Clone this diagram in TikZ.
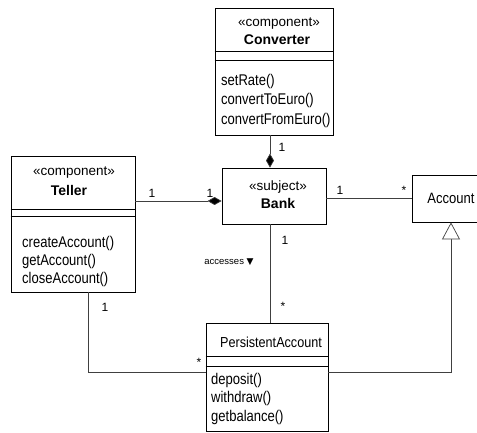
\documentclass[tikz,border=0pt]{standalone}
\usepackage{fontspec}
\setmainfont{Liberation Sans}
\newfontfamily\namefont[FakeStretch=0.87]{Liberation Sans}
\newfontfamily\opsfont[FakeStretch=0.84]{Liberation Sans}
\newfontfamily\symfont{DejaVu Sans}
\usetikzlibrary{arrows.meta}

\begin{document}
\begin{tikzpicture}[x=1pt,y=-1pt,
  classbox/.style={draw=black, line width=0.8pt, fill=white, inner sep=0pt},
  sepline/.style={draw=black, line width=0.7pt},
  stereo/.style={inner sep=0pt, font=\fontsize{13.5}{15}\selectfont},
  cname/.style={inner sep=0pt, font=\fontsize{14}{16}\selectfont\bfseries},
  opname/.style={inner sep=0pt, anchor=west, font=\opsfont\fontsize{15.5}{17}\selectfont},
  mult/.style={inner sep=0pt, font=\fontsize{12}{14}\selectfont},
  assoc/.style={draw=black!75, line width=0.7pt},
  compos/.style={assoc, -{Diamond[length=14pt,width=8pt,fill=black]}},
  general/.style={assoc, -{Triangle[open,length=17pt,width=18pt,fill=white]}}
]
\useasboundingbox (0,0) rectangle (477,433);

% ---------- Converter ----------
\node[classbox, minimum width=118pt, minimum height=127pt] (conv) at (274,71.5) {};
\draw[sepline] (conv.west |- 0,51) -- (conv.east |- 0,51);
\draw[sepline] (conv.west |- 0,60) -- (conv.east |- 0,60);
\node[stereo] (convst) at (279,24) {«component»};
\node[cname] (convnm) at (277,40) {Converter};
\node[opname] (convop1) at (221,81) {setRate()};
\node[opname] (convop2) at (221,100) {convertToEuro()};
\node[opname] (convop3) at (221,120) {convertFromEuro()};

% ---------- Teller ----------
\node[classbox, minimum width=124pt, minimum height=136pt] (teller) at (73,224) {};
\draw[sepline] (teller.west |- 0,209) -- (teller.east |- 0,209);
\draw[sepline] (teller.west |- 0,216) -- (teller.east |- 0,216);
\node[stereo] (tellst) at (74,173) {«component»};
\node[cname] (tellnm) at (69,190) {Teller};
\node[opname] (tellop1) at (22,243) {createAccount()};
\node[opname] (tellop2) at (22,261) {getAccount()};
\node[opname] (tellop3) at (22,279) {closeAccount()};

% ---------- Bank ----------
\node[classbox, minimum width=104pt, minimum height=56pt] (bank) at (274,196) {};
\node[stereo] (bankst) at (278,187) {«subject»};
\node[cname] (banknm) at (278,203) {Bank};

% ---------- Account ----------
\node[classbox, minimum width=78pt, minimum height=47pt] (acct) at (451,198.5) {};
\node[inner sep=0pt, font=\namefont\fontsize{15}{17}\selectfont] (acctnm) at (451,198) {Account};

% ---------- PersistentAccount ----------
\node[classbox, minimum width=122pt, minimum height=108pt] (pa) at (267,377) {};
\draw[sepline] (pa.west |- 0,356) -- (pa.east |- 0,356);
\draw[sepline] (pa.west |- 0,366) -- (pa.east |- 0,366);
\node[inner sep=0pt, font=\namefont\fontsize{14.5}{16}\selectfont] (panm) at (271,342) {PersistentAccount};
\node[opname] (paop1) at (211,380) {deposit()};
\node[opname] (paop2) at (211,398) {withdraw()};
\node[opname] (paop3) at (211,417) {getbalance()};

% ---------- connectors ----------
\coordinate (tcorner) at (88,372);
\coordinate (gcorner) at (451,372);

% Converter to Bank (composition)
\draw[compos] ([xshift=-4pt]conv.south) -- ([xshift=-4pt]bank.north);
% Teller to Bank (composition)
\draw[compos] (teller.east |- 0,201) -- (bank.west |- 0,201);
% Bank to Account
\draw[assoc] (bank.east |- 0,198) -- (acct.west |- 0,198);
% Bank accesses PersistentAccount
\draw[assoc] ([xshift=-4pt]bank.south) -- ([xshift=-4pt]bank.south |- pa.north);
% Teller to PersistentAccount
\draw[assoc] (tcorner |- teller.south) -- (tcorner) -- (tcorner -| pa.west);
% PersistentAccount specialises Account
\draw[general] (gcorner -| pa.east) -- (gcorner) -- (gcorner |- acct.south);

% ---------- multiplicities and role labels ----------
\node[mult] (mconv) at (282,147) {1};
\node[mult] (mtell) at (152,193) {1};
\node[mult] (mbankl) at (210,193) {1};
\node[mult] (mbankr) at (340,190) {1};
\node[mult] (macct) at (404,190) {*};
\node[mult] (mbankb) at (285,240) {1};
\node[mult] (mpatop) at (283,306) {*};
\node[mult] (mtellb) at (105,307) {1};
\node[mult] (mpaleft) at (199,362) {*};
\node[inner sep=0pt, font=\fontsize{9.5}{11}\selectfont] (accesses) at (229,262)
  {accesses~{\symfont\fontsize{9}{11}\selectfont ▼}};
\end{tikzpicture}
\end{document}
